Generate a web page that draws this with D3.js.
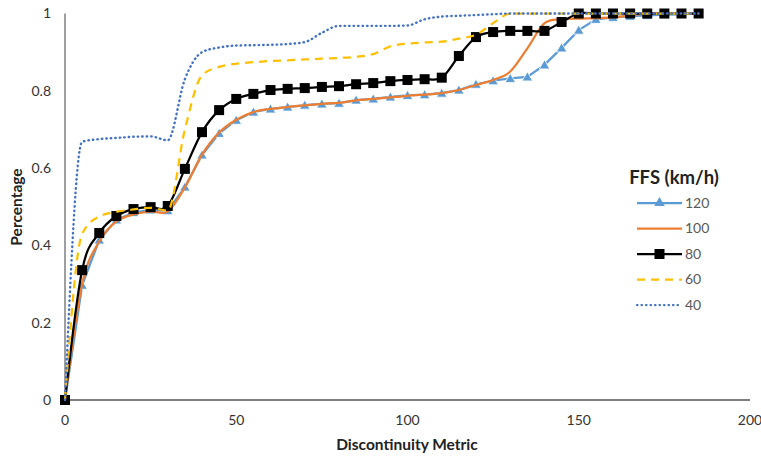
<!DOCTYPE html>
<html>
<head>
<meta charset="utf-8">
<script src="https://cdn.jsdelivr.net/npm/d3@7.9.0/dist/d3.min.js"></script>
<style>
  body { margin: 0; background: #fff; }
  svg { display: block; font-family: Lato, "Open Sans", sans-serif; }
</style>
</head>
<body>
<svg id="chart" width="761" height="456"></svg>
<script>
// discontinuity metric values (x)
const metric = [0, 5, 10, 15, 20, 25, 30, 35, 40, 45, 50, 55, 60, 65, 70, 75, 80, 85, 90,
  95, 100, 105, 110, 115, 120, 125, 130, 135, 140, 145, 150, 155, 160, 165, 170, 175, 180, 185];

// cumulative percentage per free flow speed
const ffs120 = [0, 0.297, 0.414, 0.466, 0.485, 0.492, 0.49, 0.551, 0.634, 0.69, 0.724, 0.745, 0.753, 0.758,
  0.763, 0.766, 0.768, 0.776, 0.779, 0.784, 0.788, 0.79, 0.794, 0.802, 0.817, 0.826, 0.832, 0.836,
  0.867, 0.911, 0.957, 0.985, 0.99, 0.993, 0.995, 0.997, 0.998, 1];
const ffs100 = [0, 0.3, 0.41, 0.462, 0.48, 0.488, 0.488, 0.55, 0.635, 0.692, 0.725, 0.745, 0.753, 0.758,
  0.762, 0.766, 0.769, 0.775, 0.779, 0.783, 0.787, 0.79, 0.794, 0.802, 0.815, 0.828, 0.85, 0.91,
  0.975, 0.985, 0.987, 0.988, 0.99, 0.995, 1, 1, 1, 1];
const ffs80 = [0, 0.336, 0.432, 0.476, 0.494, 0.499, 0.502, 0.598, 0.693, 0.75, 0.779, 0.792, 0.802, 0.805,
  0.807, 0.81, 0.812, 0.817, 0.82, 0.825, 0.828, 0.83, 0.834, 0.89, 0.939, 0.952, 0.955, 0.955,
  0.955, 0.978, 1, 1, 1, 1, 1, 1, 1, 1];
const ffs60 = [0, 0.43, 0.475, 0.487, 0.493, 0.497, 0.49, 0.7, 0.84, 0.862, 0.87, 0.874, 0.877, 0.879,
  0.881, 0.883, 0.885, 0.888, 0.895, 0.915, 0.922, 0.925, 0.927, 0.935, 0.945, 0.975, 1, 1,
  1, 1, 1, 1, 1, 1, 1, 1, 1, 1];
const ffs40 = [0, 0.668, 0.675, 0.678, 0.681, 0.682, 0.672, 0.83, 0.9, 0.912, 0.917, 0.918, 0.919, 0.921,
  0.926, 0.95, 0.968, 0.968, 0.968, 0.968, 0.969, 0.985, 0.992, 0.994, 0.996, 0.998, 1, 1,
  1, 1, 1, 1, 1, 1, 1, 1, 1, 1];

const xTicks = [0, 50, 100, 150, 200];
const yTicks = [0, 0.2, 0.4, 0.6, 0.8, 1];

const series = [
  { label: '120', values: ffs120, color: '#5B9BD5', marker: 'triangle', dash: null, curve: d3.curveLinear },
  { label: '100', values: ffs100, color: '#ED7D31', marker: null, dash: null, curve: d3.curveCardinal.tension(0) },
  { label: '80', values: ffs80, color: '#000000', marker: 'square', dash: null, curve: d3.curveCardinal.tension(0) },
  { label: '60', values: ffs60, color: '#FFC000', marker: null, dash: '8,6', curve: d3.curveMonotoneX },
  { label: '40', values: ffs40, color: '#4472C4', marker: null, dash: 'dot', curve: d3.curveMonotoneX }
];

const svg = d3.select('#chart');
const x = d3.scaleLinear().domain([0, 200]).range([65, 750]);
const y = d3.scaleLinear().domain([0, 1]).range([400, 13.5]);

// axes
svg.append('line')
  .attr('x1', x(0)).attr('x2', x(0))
  .attr('y1', y(1)).attr('y2', y(0))
  .attr('stroke', '#7f7f7f').attr('stroke-width', 1.5);
svg.append('line')
  .attr('x1', x(0)).attr('x2', x(200))
  .attr('y1', y(0)).attr('y2', y(0))
  .attr('stroke', '#000').attr('stroke-width', 1.2);

svg.selectAll('.ytick')
  .data(yTicks)
  .join('text')
  .attr('class', 'ytick')
  .attr('x', 51)
  .attr('y', d => y(d))
  .attr('dy', '0.35em')
  .attr('text-anchor', 'end')
  .attr('font-size', 14)
  .attr('fill', '#333')
  .text(d => d);

svg.selectAll('.xtick')
  .data(xTicks)
  .join('text')
  .attr('class', 'xtick')
  .attr('x', d => x(d))
  .attr('y', 425)
  .attr('text-anchor', 'middle')
  .attr('font-size', 14)
  .attr('fill', '#333')
  .text(d => d);

svg.append('text')
  .attr('x', 407).attr('y', 450)
  .attr('text-anchor', 'middle')
  .attr('font-size', 15.5).attr('font-weight', 'bold')
  .attr('fill', '#222')
  .text('Discontinuity Metric');

svg.append('text')
  .attr('transform', 'translate(22,207) rotate(-90)')
  .attr('text-anchor', 'middle')
  .attr('font-size', 15.5).attr('font-weight', 'bold')
  .attr('fill', '#222')
  .text('Percentage');

const triangle = d3.symbol().type(d3.symbolTriangle).size(48);

function styleStroke(sel, s) {
  sel.attr('stroke', s.color)
    .attr('stroke-linecap', s.dash === 'dot' ? 'round' : 'butt')
    .attr('stroke-dasharray', s.dash === 'dot' ? '0.5,4' : s.dash);
}

// lines
series.forEach(s => {
  const pts = metric.map((m, i) => [m, s.values[i]]);
  const line = d3.line()
    .x(d => x(d[0]))
    .y(d => y(d[1]))
    .curve(s.curve);

  svg.append('path')
    .datum(pts)
    .attr('d', line)
    .attr('fill', 'none')
    .attr('stroke-width', s.dash === 'dot' ? 2.4 : 2.25)
    .call(styleStroke, s);

  if (s.marker === 'square') {
    svg.selectAll(null)
      .data(pts)
      .join('rect')
      .attr('x', d => x(d[0]) - 5)
      .attr('y', d => y(d[1]) - 5)
      .attr('width', 10).attr('height', 10)
      .attr('fill', s.color);
  } else if (s.marker === 'triangle') {
    svg.selectAll(null)
      .data(pts)
      .join('path')
      .attr('d', triangle)
      .attr('transform', d => `translate(${x(d[0])},${y(d[1]) + 1})`)
      .attr('fill', s.color)
      .attr('stroke', '#fff').attr('stroke-width', 0.8);
  }
});

// legend
const legend = svg.append('g');
legend.append('text')
  .attr('x', 674).attr('y', 184)
  .attr('text-anchor', 'middle')
  .attr('font-size', 18.5).attr('font-weight', 'bold')
  .attr('fill', '#222')
  .text('FFS (km/h)');

series.forEach((s, i) => {
  const ly = 203 + i * 25.5;
  legend.append('line')
    .attr('x1', 637).attr('x2', 682)
    .attr('y1', ly).attr('y2', ly)
    .attr('stroke-width', 2.25)
    .call(styleStroke, s);
  if (s.marker === 'square') {
    legend.append('rect')
      .attr('x', 654.5).attr('y', ly - 5)
      .attr('width', 10).attr('height', 10)
      .attr('fill', s.color);
  } else if (s.marker === 'triangle') {
    legend.append('path')
      .attr('d', triangle)
      .attr('transform', `translate(659.5,${ly})`)
      .attr('fill', s.color);
  }
  legend.append('text')
    .attr('x', 685).attr('y', ly)
    .attr('dy', '0.35em')
    .attr('font-size', 14)
    .attr('fill', '#595959')
    .text(s.label);
});
</script>
</body>
</html>
